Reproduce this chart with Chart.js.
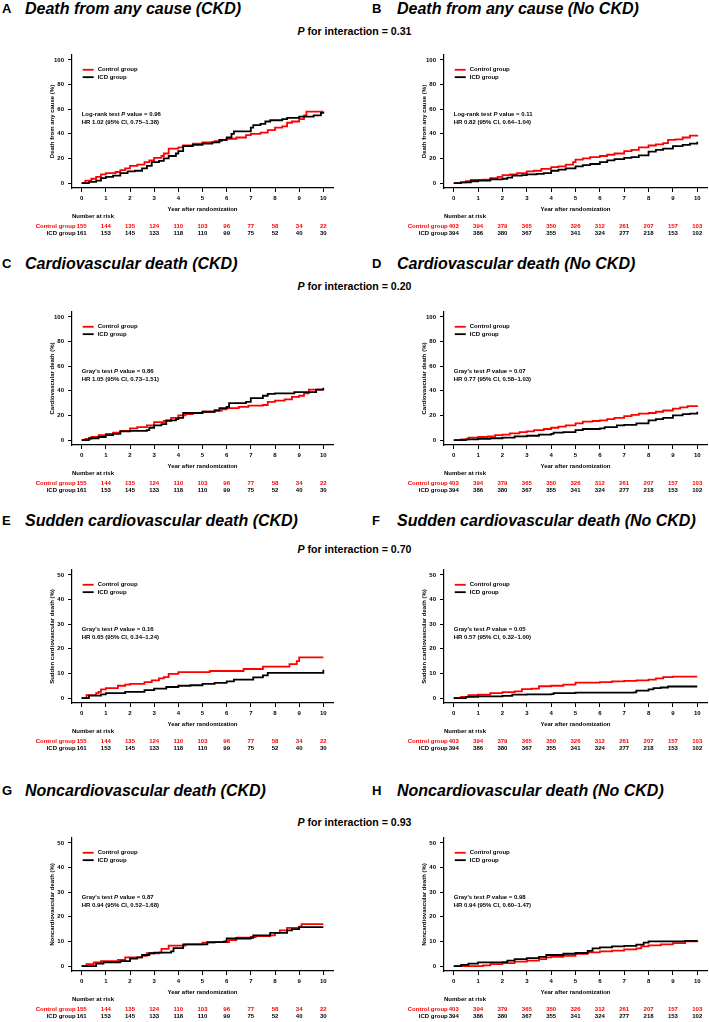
<!DOCTYPE html>
<html>
<head>
<meta charset="utf-8">
<script src="https://cdn.jsdelivr.net/npm/chart.js@4"></script>
<style>
  body { margin: 0; background: #fff; }
  #page { position: relative; width: 709px; height: 1022px; overflow: hidden; font-family: "Liberation Sans", Arial, sans-serif; }
  .letter { position: absolute; font-weight: bold; font-size: 13px; height: 20px; line-height: 20px; }
  .title { position: absolute; font-weight: bold; font-style: italic; font-size: 16px; height: 20px; line-height: 20px; white-space: nowrap; }
  .pint { position: absolute; left: 0; width: 709px; text-align: center; font-weight: bold; font-size: 10.6px; height: 14px; line-height: 14px; }
  canvas { position: absolute; }
</style>
</head>
<body>
<div id="page"></div>
<script>
// years on the x axis, risk table values
const years = [0, 1, 2, 3, 4, 5, 6, 7, 8, 9, 10];
const ckdControlRisk = [155, 144, 135, 124, 110, 103, 96, 77, 58, 34, 22];
const ckdIcdRisk = [161, 153, 145, 133, 118, 110, 99, 75, 52, 40, 30];
const noCkdControlRisk = [403, 394, 379, 365, 350, 326, 312, 261, 207, 157, 103];
const noCkdIcdRisk = [394, 386, 380, 367, 355, 341, 324, 277, 218, 153, 102];

// cumulative incidence curves, [year, %]
const aControl = [[0,0],[0.15,2],[0.4,3.5],[0.6,5],[0.8,7],[1,8],[1.4,9],[1.6,10.5],[1.8,12],[2,14],[2.3,15],[2.6,17],[2.8,18.5],[3,20.5],[3.3,22],[3.4,24],[3.6,28],[4,29],[4.2,30.5],[4.6,32],[5,33],[5.5,34],[5.8,35],[6,36],[6.4,37],[6.8,39],[7,40],[7.4,41],[7.7,43],[8,45],[8.3,46],[8.5,49],[8.7,50],[9,52],[9.2,55],[9.3,58],[10,58]];
const aIcd = [[0,0],[0.3,1],[0.6,2],[0.8,4],[1,5],[1.3,6],[1.6,8],[1.9,9.5],[2.2,10],[2.5,12],[2.7,14],[2.9,17],[3.2,18],[3.4,20],[3.6,22],[3.9,24],[4,26],[4.2,30],[4.6,31],[5,32],[5.4,33],[5.7,35],[6,37],[6.2,40],[6.3,42],[6.9,42],[7,45],[7.1,47],[7.4,48],[7.6,50],[7.8,51],[8.3,52],[8.5,53],[9,54],[9.6,55],[9.9,57],[10,58]];
const bControl = [[0,0],[0.3,0.5],[0.5,1.5],[0.7,2.5],[1.2,2.7],[1.5,4],[1.8,5],[2,6.5],[2.3,7],[2.6,8],[3,9.5],[3.3,10],[3.6,11.5],[4,13],[4.3,13.5],[4.6,15],[4.9,17],[5,19],[5.3,20],[5.6,21],[6,22],[6.3,23],[6.6,24],[7,26],[7.3,27],[7.6,29],[8,30.5],[8.3,31.5],[8.6,32.5],[8.8,35],[9.1,35.5],[9.4,37],[9.7,38.5],[10,39]];
const bIcd = [[0,0],[0.3,0.5],[0.7,1.5],[1,2],[1.5,3],[2,3.5],[2.2,4.5],[2.4,6],[2.8,6.5],[3,7],[3.4,7.5],[3.7,8],[4,10],[4.3,11],[4.6,12],[5,13.5],[5.3,14.5],[5.6,15.5],[6,17],[6.3,18.5],[6.6,19.5],[7,20.5],[7.3,21],[7.6,22.5],[8,25.5],[8.3,27],[8.6,28],[9,30],[9.4,31],[9.7,32],[10,33.5]];
const cControl = [[0,0],[0.15,1],[0.4,2.5],[0.7,4],[1,5],[1.3,6],[1.6,7.5],[2,9.5],[2.3,10.5],[2.7,12],[3,14.5],[3.4,15.5],[3.7,18],[4,20],[4.3,21],[4.6,22],[5,23],[5.5,24],[5.8,25],[6,26],[6.5,27],[6.9,28],[7.5,28.5],[7.7,31],[8,32],[8.4,33],[8.7,35],[9,36],[9.2,38],[9.4,41],[10,41]];
const cIcd = [[0,0],[0.3,1.5],[0.7,2.5],[1,4],[1.3,5],[1.6,7],[2,7.5],[2.7,8],[2.8,10],[3,12],[3.3,13],[3.5,16],[3.9,17],[4,18],[4.2,22],[5,23],[5.5,24],[5.7,26],[6,27],[6.1,30],[6.8,31],[7,34],[7.5,36],[7.7,37.5],[8,38],[8.8,39],[9.6,39],[9.7,41],[10,42.5]];
const dControl = [[0,0],[0.3,0.5],[0.6,2],[1,2.5],[1.4,3],[1.7,4],[2,4.5],[2.3,5.5],[2.7,6.5],[3,7],[3.3,8],[3.7,9],[4,10],[4.3,11],[4.6,12],[5,13.5],[5.3,15],[5.7,15.5],[6,16],[6.3,17],[6.6,18],[7,19.5],[7.3,20.5],[7.6,21.5],[8,22],[8.3,23],[8.6,24],[9,25.5],[9.3,26.5],[9.6,27.5],[10,28]];
const dIcd = [[0,0],[0.5,0.5],[1,1],[1.5,1.5],[2,2],[2.5,3],[3,3.5],[3.5,4.5],[4,5],[4.1,6],[4.5,6.5],[5,8],[5.3,9],[6,9.5],[6.2,10.5],[6.7,12],[7,12.3],[7.5,13.5],[8,16],[8.3,17],[8.6,18],[9,20],[9.4,21],[9.7,21.5],[10,23]];
const eControl = [[0,0],[0.2,1.2],[0.6,2],[0.7,2.5],[0.8,3.5],[1,4],[1.5,5],[1.8,5.5],[2,5.8],[2.6,6.5],[2.9,7.2],[3.2,8],[3.4,8.5],[3.6,9.8],[4,10.5],[5.3,11],[6.7,11.8],[7.5,12.8],[8.6,13.8],[8.9,15],[9,16.5],[10,16.5]];
const eIcd = [[0,0],[0.3,1],[0.8,1.5],[1,2],[1.8,2.5],[2.6,3.2],[3,3.8],[3.5,4.5],[4,5],[4.5,5.2],[5,5.8],[5.5,6.2],[6,6.8],[6.3,7.5],[7.1,8.4],[7.5,9.2],[7.7,10.2],[9.9,10.2],[10,11.5]];
const fControl = [[0,0],[0.3,0.5],[0.6,1.2],[1,1.4],[1.5,2],[2,2.4],[2.5,2.7],[2.8,3.6],[3.2,3.8],[3.5,4.8],[4,5],[4.5,5.5],[5,6.3],[6,6.5],[6.5,6.8],[7,7],[7.5,7.2],[8,7.5],[8.3,8],[8.6,8.5],[9,8.7],[10,8.7]];
const fIcd = [[0,0],[0.5,0.5],[1,0.7],[2,0.9],[2.4,1.4],[3,1.5],[4,1.6],[4.1,2],[5,2.2],[7.4,2.3],[7.5,3],[8,3.5],[8.2,4],[8.5,4.3],[8.8,4.7],[10,4.7]];
const gControl = [[0,0],[0.2,0.8],[0.5,1.5],[0.8,2],[1.5,2.5],[1.8,3.5],[2.5,4.2],[2.7,5.2],[3.2,5.5],[3.3,7],[3.6,8.3],[4.3,8.8],[5,9.5],[5.5,9.7],[6.1,10.5],[6.4,11.5],[7,11.8],[7.2,12.2],[7.8,12.5],[8,13.5],[8.2,14.5],[8.5,15.5],[9,16],[9.1,17],[10,17]];
const gIcd = [[0,0],[0.6,1],[0.9,1.5],[1.6,2],[2,3],[2.3,3.5],[2.5,4.5],[2.8,5.2],[3,5.5],[3.7,6],[3.8,7.3],[4.2,8.8],[5.2,9.7],[5.9,10],[6,11.2],[7,11.5],[7.1,12.5],[7.8,13.5],[8.5,14.5],[8.7,15],[9,15.8],[10,15.8]];
const hControl = [[0,0],[1,0],[1.2,0.3],[1.5,0.8],[2,1.2],[2.5,1.8],[3,2.2],[3.5,2.8],[3.8,3.5],[4,3.7],[4.5,4.2],[5,5],[5.5,5.6],[6,6],[6.5,6.3],[7,6.8],[7.5,7.2],[7.7,8],[8,8.4],[8.5,8.8],[9,9.3],[9.5,10],[10,10.6]];
const hIcd = [[0,0],[0.3,0.5],[0.6,1],[1,1.5],[2,1.6],[2.2,2.2],[2.5,2.8],[3,3.2],[3.5,3.7],[3.8,4.5],[4.5,5],[5,5.3],[5.5,6.2],[5.7,7.2],[6,7.6],[6.5,8],[7,8.2],[7.5,8.7],[7.8,9.5],[8,10],[9.5,10.2],[10,10.2]];

const pInteraction = ["0.31", "0.20", "0.70", "0.93"];

const panels = [
  {letter: "A", title: "Death from any cause (CKD)", yTitle: "Death from any cause (%)", yMax: 100, control: aControl, icd: aIcd, test: "Log-rank test", p: "0.96", hr: "HR 1.02 (95% CI, 0.75\u20131.38)", risk: [ckdControlRisk, ckdIcdRisk]},
  {letter: "B", title: "Death from any cause (No CKD)", yTitle: "Death from any cause (%)", yMax: 100, control: bControl, icd: bIcd, test: "Log-rank test", p: "0.11", hr: "HR 0.82 (95% CI, 0.64\u20131.04)", risk: [noCkdControlRisk, noCkdIcdRisk]},
  {letter: "C", title: "Cardiovascular death (CKD)", yTitle: "Cardiovascular death (%)", yMax: 100, control: cControl, icd: cIcd, test: "Gray's test", p: "0.86", hr: "HR 1.05 (95% CI, 0.73\u20131.51)", risk: [ckdControlRisk, ckdIcdRisk]},
  {letter: "D", title: "Cardiovascular death (No CKD)", yTitle: "Cardiovascular death (%)", yMax: 100, control: dControl, icd: dIcd, test: "Gray's test", p: "0.07", hr: "HR 0.77 (95% CI, 0.58\u20131.03)", risk: [noCkdControlRisk, noCkdIcdRisk]},
  {letter: "E", title: "Sudden cardiovascular death (CKD)", yTitle: "Sudden cardiovascular death (%)", yMax: 50, control: eControl, icd: eIcd, test: "Gray's test", p: "0.16", hr: "HR 0.65 (95% CI, 0.34\u20131.24)", risk: [ckdControlRisk, ckdIcdRisk]},
  {letter: "F", title: "Sudden cardiovascular death (No CKD)", yTitle: "Sudden cardiovascular death (%)", yMax: 50, control: fControl, icd: fIcd, test: "Gray's test", p: "0.05", hr: "HR 0.57 (95% CI, 0.32\u20131.00)", risk: [noCkdControlRisk, noCkdIcdRisk]},
  {letter: "G", title: "Noncardiovascular death (CKD)", yTitle: "Noncardiovascular death (%)", yMax: 50, control: gControl, icd: gIcd, test: "Gray's test", p: "0.87", hr: "HR 0.94 (95% CI, 0.52\u20131.68)", risk: [ckdControlRisk, ckdIcdRisk]},
  {letter: "H", title: "Noncardiovascular death (No CKD)", yTitle: "Noncardiovascular death (%)", yMax: 50, control: hControl, icd: hIcd, test: "Gray's test", p: "0.98", hr: "HR 0.94 (95% CI, 0.60\u20131.47)", risk: [noCkdControlRisk, noCkdIcdRisk]}
];

const RED = "#ff0000";
const FONT = '"Liberation Sans", Arial, sans-serif';
Chart.defaults.font.family = FONT;

// layout of the grid
const rowTop = [55, 312, 570, 838];
const titleMid = [8.5, 263.5, 521, 790.5];
const pMid = [31, 286, 549, 822];
const colLeft = [0, 372];
const colWidth = [345, 337];
const colPadRight = [12, 2];
const letterLeft = [2, 372];
const titleLeft = [25, 397];

const kmText = {
  id: "kmText",
  afterDraw(chart, args, o) {
    const ctx = chart.ctx;
    const a = chart.chartArea;
    const x = chart.scales.x, y = chart.scales.y;
    const x0 = x.getPixelForValue(0);
    const bold = 'bold 6px ' + FONT;
    ctx.save();
    ctx.font = bold;
    ctx.fillStyle = "#000";
    ctx.textBaseline = "middle";

    // y title
    ctx.save();
    ctx.translate(a.left - 20, (a.top + a.bottom) / 2);
    ctx.rotate(-Math.PI / 2);
    ctx.textAlign = "center";
    ctx.fillText(o.yTitle, 0, 0);
    ctx.restore();

    // x title
    ctx.textAlign = "center";
    ctx.fillText("Year after randomization", (x0 + x.getPixelForValue(10)) / 2, a.bottom + 21.5);

    // legend
    const names = ["Control group", "ICD group"];
    const cols = [RED, "#000"];
    [0.92, 0.86].forEach((f, i) => {
      const py = y.getPixelForValue(o.yMax * f);
      ctx.strokeStyle = cols[i];
      ctx.lineWidth = 1.8;
      ctx.beginPath();
      ctx.moveTo(x0 + 1, py);
      ctx.lineTo(x0 + 12, py);
      ctx.stroke();
      ctx.fillStyle = "#000";
      ctx.textAlign = "left";
      ctx.fillText(names[i], x0 + 16, py);
    });

    // test result
    const ny = y.getPixelForValue(o.yMax * 0.56);
    let px = x0;
    ctx.textAlign = "left";
    ctx.font = bold;
    ctx.fillText(o.test + " ", px, ny);
    px += ctx.measureText(o.test + " ").width;
    ctx.font = 'italic bold 6px ' + FONT;
    ctx.fillText("P", px, ny);
    px += ctx.measureText("P").width;
    ctx.font = bold;
    ctx.fillText(" value = " + o.p, px, ny);
    ctx.fillText(o.hr, x0, y.getPixelForValue(o.yMax * 0.495));

    // number at risk
    ctx.fillText("Number at risk", a.left, a.bottom + 28);
    const rowY = [a.bottom + 38.5, a.bottom + 45];
    o.risk.forEach((vals, r) => {
      ctx.fillStyle = cols[r];
      ctx.textAlign = "right";
      ctx.fillText(names[r], x0 - 6, rowY[r]);
      ctx.textAlign = "center";
      vals.forEach((v, i) => ctx.fillText(String(v), x.getPixelForValue(years[i]), rowY[r]));
    });
    ctx.restore();
  }
};

const page = document.getElementById("page");

function addDiv(cls, text, left, top) {
  const d = document.createElement("div");
  d.className = cls;
  d.textContent = text;
  if (left !== null) d.style.left = left + "px";
  d.style.top = top + "px";
  page.appendChild(d);
  return d;
}

pInteraction.forEach((p, r) => {
  const d = addDiv("pint", "", null, pMid[r] - 7);
  d.innerHTML = "<i>P</i> for interaction = " + p;
});

panels.forEach((p, k) => {
  const row = Math.floor(k / 2), col = k % 2;
  addDiv("letter", p.letter, letterLeft[col], titleMid[row] - 10);
  addDiv("title", p.title, titleLeft[col], titleMid[row] - 10);

  const canvas = document.createElement("canvas");
  canvas.width = colWidth[col];
  canvas.height = 200;
  canvas.style.left = colLeft[col] + "px";
  canvas.style.top = (rowTop[row] - 15) + "px";
  page.appendChild(canvas);

  const step = p.yMax / 5;
  const yTicks = [0, 1, 2, 3, 4, 5].map(i => i * step);

  new Chart(canvas, {
    type: "line",
    data: {
      datasets: [
        {label: "ICD group", data: p.icd.map(d => ({x: d[0], y: d[1]})), borderColor: "#000", borderWidth: 1.8, stepped: true, pointRadius: 0, fill: false, order: 0},
        {label: "Control group", data: p.control.map(d => ({x: d[0], y: d[1]})), borderColor: RED, borderWidth: 1.8, stepped: true, pointRadius: 0, fill: false, order: 1}
      ]
    },
    options: {
      responsive: false,
      animation: false,
      events: [],
      layout: {padding: {top: 15, right: colPadRight[col], bottom: 0, left: 0}},
      plugins: {
        legend: {display: false},
        tooltip: {enabled: false},
        kmText: {yTitle: p.yTitle, yMax: p.yMax, test: p.test, p: p.p, hr: p.hr, risk: p.risk}
      },
      scales: {
        x: {
          type: "linear",
          min: -0.4,
          max: 10.4,
          afterBuildTicks: s => { s.ticks = years.map(v => ({value: v})); },
          afterFit: s => { s.height = 52; },
          grid: {drawOnChartArea: false, color: "#000", tickLength: 4, lineWidth: 1},
          border: {color: "#000", width: 1.2},
          ticks: {color: "#000", font: {size: 6, weight: "bold"}, padding: 3, maxRotation: 0, autoSkip: false}
        },
        y: {
          min: -p.yMax * 0.04,
          max: p.yMax * 1.04,
          afterBuildTicks: s => { s.ticks = yTicks.map(v => ({value: v})); },
          afterFit: s => { s.width = 72; },
          grid: {drawOnChartArea: false, color: "#000", tickLength: 4, lineWidth: 1},
          border: {color: "#000", width: 1.2},
          ticks: {color: "#000", font: {size: 6, weight: "bold"}, padding: 4}
        }
      }
    },
    plugins: [kmText]
  });
});
</script>
</body>
</html>
